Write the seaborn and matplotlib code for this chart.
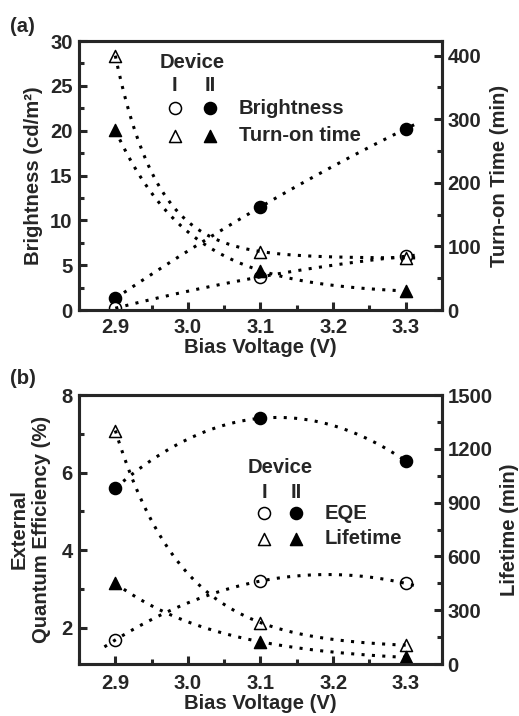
import numpy as np
import pandas as pd
import matplotlib
matplotlib.use("Agg")
import matplotlib.pyplot as plt
from matplotlib.ticker import MultipleLocator
import seaborn as sns

# data
volt = [2.9, 3.1, 3.3]
bright_I = [0.2, 3.7, 6.0]
bright_II = [1.3, 11.5, 20.2]
turnon_I = [400, 92, 82]
turnon_II = [283, 62, 30]
eqe_I = [1.68, 3.2, 3.14]
eqe_II = [5.6, 7.4, 6.3]
life_I = [1302, 231, 105]
life_II = [450, 124, 37]

sns.set_style("ticks")
plt.rcParams['font.family'] = ['Liberation Sans', 'DejaVu Sans']
plt.rcParams['font.weight'] = 'bold'
plt.rcParams['axes.labelweight'] = 'bold'
plt.rcParams['font.size'] = 14.6
plt.rcParams['axes.linewidth'] = 2.2

DOT = (0, (1, 2.4))


def quad_fit(x, y, lo, hi):
    p = np.polyfit(x, y, 2)
    xs = np.linspace(lo, hi, 200)
    return xs, np.polyval(p, xs)


def exp_fit(x, y, lo, hi):
    # y = c + A * r**((x - x0)/h), solved from the three equally spaced points
    h = x[1] - x[0]
    r = (y[1] - y[2]) / (y[0] - y[1])
    A = (y[0] - y[1]) / (1 - r)
    c = y[0] - A
    xs = np.linspace(lo, hi, 200)
    return xs, c + A * r ** ((xs - x[0]) / h)


def draw(ax, x, y, filled, marker, fit, lo, hi):
    df = pd.DataFrame({'V': x, 'val': y})
    sns.scatterplot(data=df, x='V', y='val', ax=ax, marker=marker, s=75,
                    color='black' if filled else 'white', edgecolor='black',
                    linewidth=1.1, legend=False, zorder=2)
    xs, ys = fit(x, y, lo, hi)
    sns.lineplot(x=xs, y=ys, ax=ax, color='black', lw=2.2, linestyle=DOT,
                 legend=False, zorder=3)


def style_axes(ax, ax2, xpad):
    ax.set_xlim(2.85, 3.35)
    ax.xaxis.set_major_locator(MultipleLocator(0.1))
    ax.xaxis.set_minor_locator(MultipleLocator(0.05))
    ax.tick_params(axis='x', which='both', direction='in', top=False, pad=xpad)
    ax.tick_params(axis='y', which='both', direction='in', right=False, pad=4.5)
    ax.tick_params(which='major', length=5.5, width=2.2)
    ax.tick_params(which='minor', length=3.5, width=2.2)
    ax2.tick_params(axis='y', which='both', direction='in', pad=4)
    ax2.tick_params(which='major', length=5.5, width=2.2)
    ax2.tick_params(which='minor', length=3.5, width=2.2)
    for a in (ax, ax2):
        for s in a.spines.values():
            s.set_linewidth(2.2)
            s.set_visible(True)


def legend_block(ax, x1, x2, xt, ys, labels):
    ax.text((x1 + x2) / 2, ys[0], 'Device', transform=ax.transAxes, ha='center', va='center')
    ax.text(x1, ys[1], 'I', transform=ax.transAxes, ha='center', va='center')
    ax.text(x2, ys[1], 'II', transform=ax.transAxes, ha='center', va='center')
    for yy, mk, lab in zip(ys[2:], ['o', '^'], labels):
        ax.scatter([x1], [yy], marker=mk, s=75, facecolor='white', edgecolor='black',
                   linewidth=1.1, transform=ax.transAxes, clip_on=False)
        ax.scatter([x2], [yy], marker=mk, s=75, facecolor='black', edgecolor='black',
                   linewidth=1.1, transform=ax.transAxes, clip_on=False)
        ax.text(xt, yy, lab, transform=ax.transAxes, ha='left', va='center')


fig = plt.figure(figsize=(5.19, 7.16), dpi=100)

# (a) brightness / turn-on time
ax = fig.add_axes([0.1522, 0.567, 0.6994, 0.3757])
ax2 = ax.twinx()
draw(ax, volt, bright_II, True, 'o', quad_fit, 2.9, 3.315)
draw(ax, volt, bright_I, False, 'o', quad_fit, 2.9, 3.315)
draw(ax2, volt, turnon_I, False, '^', exp_fit, 2.9, 3.315)
draw(ax2, volt, turnon_II, True, '^', exp_fit, 2.9, 3.29)
ax.set_ylim(0, 30)
ax.yaxis.set_major_locator(MultipleLocator(5))
ax.yaxis.set_minor_locator(MultipleLocator(2.5))
ax2.set_ylim(0, 423)
ax2.yaxis.set_major_locator(MultipleLocator(100))
ax2.yaxis.set_minor_locator(MultipleLocator(50))
style_axes(ax, ax2, 6)
ax.set_xlabel('Bias Voltage (V)')
ax.set_ylabel('Brightness (cd/m²)')
ax2.set_ylabel('Turn-on Time (min)')
ax.xaxis.set_label_coords(0.5, -0.104)
ax.yaxis.set_label_coords(-0.099, 0.5)
ax2.yaxis.set_label_coords(1.132, 0.5)
legend_block(ax2, 0.264, 0.361, 0.441, [0.922, 0.833, 0.751, 0.647],
             ['Brightness', 'Turn-on time'])
fig.text(10 / 519, 1 - 17 / 716, '(a)', ha='left', va='top')

# (b) EQE / lifetime
bx = fig.add_axes([0.1522, 0.0726, 0.6994, 0.3757])
bx2 = bx.twinx()
draw(bx, volt, eqe_II, True, 'o', quad_fit, 2.9, 3.315)
draw(bx, volt, eqe_I, False, 'o', quad_fit, 2.885, 3.32)
draw(bx2, volt, life_I, False, '^', exp_fit, 2.9, 3.3)
draw(bx2, volt, life_II, True, '^', exp_fit, 2.9, 3.3)
bx.set_ylim(1.06, 8)
bx.yaxis.set_major_locator(MultipleLocator(2))
bx.yaxis.set_minor_locator(MultipleLocator(1))
bx2.set_ylim(0, 1500)
bx2.yaxis.set_major_locator(MultipleLocator(300))
bx2.yaxis.set_minor_locator(MultipleLocator(150))
style_axes(bx, bx2, 7.5)
bx.set_xlabel('Bias Voltage (V)')
bx.set_ylabel('External\nQuantum Efficiency (%)')
bx2.set_ylabel('Lifetime (min)')
bx.xaxis.set_label_coords(0.5, -0.112)
bx.yaxis.set_label_coords(-0.077, 0.5)
bx2.yaxis.set_label_coords(1.160, 0.5)
legend_block(bx2, 0.510, 0.598, 0.678, [0.732, 0.639, 0.561, 0.465],
             ['EQE', 'Lifetime'])
fig.text(10 / 519, 1 - 369 / 716, '(b)', ha='left', va='top')

fig.savefig('out.png', dpi=100)
